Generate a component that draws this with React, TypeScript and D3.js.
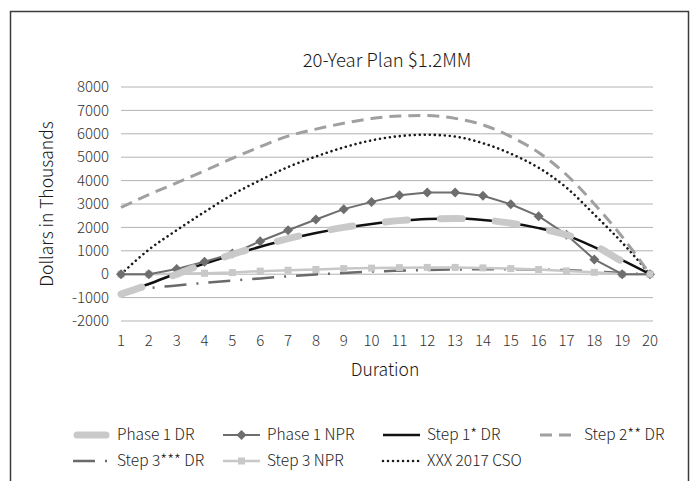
import React from 'react'
import * as d3 from 'd3'

const durations = [1, 2, 3, 4, 5, 6, 7, 8, 9, 10, 11, 12, 13, 14, 15, 16, 17, 18, 19, 20]
const yTicks = [-2000, -1000, 0, 1000, 2000, 3000, 4000, 5000, 6000, 7000, 8000]

const phase1DR = [-850, -450, 0, 450, 850, 1200, 1520, 1780, 2000, 2160, 2290, 2360, 2380, 2320, 2180, 1960, 1680, 1230, 550, 0]
const phase1NPR = [0, 0, 220, 530, 880, 1410, 1880, 2340, 2780, 3090, 3370, 3490, 3490, 3350, 2990, 2480, 1690, 630, 0, 0]
const step1DR = [-800, -420, 40, 450, 820, 1170, 1490, 1760, 1980, 2150, 2280, 2360, 2380, 2320, 2190, 1970, 1660, 1160, 600, 0]
const step2DR = [2850, 3400, 3900, 4420, 4950, 5450, 5900, 6200, 6450, 6650, 6760, 6780, 6660, 6380, 5880, 5200, 4250, 3000, 1600, 0]
const step3DR = [-800, -600, -480, -370, -270, -180, -90, -10, 50, 110, 150, 180, 200, 210, 210, 200, 170, 120, 50, 0]
const step3NPR = [0, 0, 20, 40, 70, 130, 170, 200, 240, 260, 280, 290, 290, 270, 240, 200, 140, 80, 0, 0]
const cso2017 = [0, 1050, 1880, 2660, 3400, 4020, 4580, 5030, 5420, 5720, 5900, 5960, 5880, 5600, 5150, 4550, 3700, 2550, 1350, 0]

const FONT = '"Noto Sans CJK JP", "Noto Sans", sans-serif'

type Series = {
  name: string
  values: number[]
  color: string
  width: number
  dash?: string
  cap?: 'round' | 'butt'
  marker?: 'diamond' | 'square'
  smooth: boolean
}

const series: Series[] = [
  { name: 'Phase 1 DR', values: phase1DR, color: '#c9c9c9', width: 7, dash: '22 33', cap: 'round', smooth: true },
  { name: 'Phase 1 NPR', values: phase1NPR, color: '#6e6e6e', width: 2, marker: 'diamond', smooth: false },
  { name: 'Step 1* DR', values: step1DR, color: '#111', width: 2.5, smooth: true },
  { name: 'Step 2** DR', values: step2DR, color: '#a0a0a0', width: 3, dash: '12 7', smooth: true },
  { name: 'Step 3*** DR', values: step3DR, color: '#6a6a6a', width: 2.5, dash: '22 10 2 10', smooth: true },
  { name: 'Step 3 NPR', values: step3NPR, color: '#c8c8c8', width: 2.5, marker: 'square', smooth: false },
  { name: 'XXX 2017 CSO', values: cso2017, color: '#1a1a1a', width: 2.6, dash: '0.01 5', cap: 'round', smooth: true }
]

// draw order: later on top
const drawOrder = ['XXX 2017 CSO', 'Step 2** DR', 'Step 3*** DR', 'Step 3 NPR', 'Step 1* DR', 'Phase 1 NPR', 'Phase 1 DR']

const Marker = ({ type, x, y, color }: { type?: string; x: number; y: number; color: string }) => {
  if (type === 'diamond') {
    const r = 5
    return <path d={`M${x},${y - r}L${x + r},${y}L${x},${y + r}L${x - r},${y}Z`} fill={color} />
  }
  if (type === 'square') {
    return <rect x={x - 3.5} y={y - 3.5} width={7} height={7} fill={color} />
  }
  return null
}

export default function App() {
  const width = 694
  const height = 481

  const x = d3.scaleLinear().domain([1, 20]).range([121, 650])
  const y = d3.scaleLinear().domain([-2000, 8000]).range([321, 87])

  const lineFor = (s: Series) =>
    d3.line<number>()
      .x((_, i) => x(durations[i]))
      .y(d => y(d))
      .curve(s.smooth ? d3.curveMonotoneX : d3.curveLinear)(s.values) || ''

  const legendRows = [
    [
      { s: 'Phase 1 DR', x: 73 },
      { s: 'Phase 1 NPR', x: 223 },
      { s: 'Step 1* DR', x: 383 },
      { s: 'Step 2** DR', x: 540 }
    ],
    [
      { s: 'Step 3*** DR', x: 73 },
      { s: 'Step 3 NPR', x: 223 },
      { s: 'XXX 2017 CSO', x: 383 }
    ]
  ]
  const legendY = [435, 461]

  const byName = (n: string) => series.find(s => s.name === n)!

  return (
    <svg
      width={width}
      height={height}
      style={{ position: 'absolute', left: 0, top: 0, background: '#fff' }}
      fontFamily={FONT}
      fontWeight={300}
    >
      <rect x={0} y={0} width={width} height={height} fill="#fff" />
      <path d={`M10.5,${height + 5}V11.5H688.5V${height + 5}`} fill="none" stroke="#3c3c3c" strokeWidth={1.5} />

      <text x={387} y={67} textAnchor="middle" fontSize={18.5} fill="#1a1a1a">
        20-Year Plan $1.2MM
      </text>

      {/* gridlines */}
      <g>
        {yTicks.map(t => (
          <line key={t} x1={121} x2={653} y1={y(t)} y2={y(t)} stroke="#b3b3b3" strokeWidth={1} />
        ))}
      </g>

      {/* y tick labels */}
      <g fontSize={15} fill="#333">
        {yTicks.map(t => (
          <text key={t} x={109} y={y(t)} dy="0.35em" textAnchor="end">
            {t}
          </text>
        ))}
      </g>

      {/* x tick labels */}
      <g fontSize={15} fill="#333">
        {durations.map(d => (
          <text key={d} x={x(d)} y={341} dy="0.35em" textAnchor="middle">
            {d}
          </text>
        ))}
      </g>

      <text x={385} y={370} dy="0.35em" textAnchor="middle" fontSize={17.5} fill="#1a1a1a">
        Duration
      </text>
      <text
        transform="translate(47,204) rotate(-90)"
        dy="0.35em"
        textAnchor="middle"
        fontSize={17.5}
        fill="#1a1a1a"
      >
        Dollars in Thousands
      </text>

      {/* series */}
      {drawOrder.map(n => {
        const s = byName(n)
        return (
          <g key={n}>
            <path
              d={lineFor(s)}
              fill="none"
              stroke={s.color}
              strokeWidth={s.width}
              strokeDasharray={s.dash}
              strokeLinecap={s.cap || 'butt'}
              strokeLinejoin="round"
            />
            {s.marker &&
              s.values.map((v, i) => (
                <Marker key={i} type={s.marker} x={x(durations[i])} y={y(v)} color={s.color} />
              ))}
          </g>
        )
      })}

      {/* legend */}
      {legendRows.map((row, ri) =>
        row.map(item => {
          const s = byName(item.s)
          const ly = legendY[ri]
          const x0 = item.x
          const x1 = item.x + 37
          return (
            <g key={item.s}>
              <line
                x1={s.cap === 'round' && s.width > 5 ? x0 + 4 : x0}
                x2={s.cap === 'round' && s.width > 5 ? x1 - 4 : x1}
                y1={ly}
                y2={ly}
                stroke={s.color}
                strokeWidth={s.width}
                strokeLinecap={s.cap || 'butt'}
                strokeDasharray={s.name === 'Phase 1 DR' ? undefined : s.dash}
              />
              {s.marker && <Marker type={s.marker} x={(x0 + x1) / 2} y={ly} color={s.color} />}
              <text x={x1 + 7} y={ly} dy="0.35em" fontSize={15.5} fill="#222">
                {s.name}
              </text>
            </g>
          )
        })
      )}
    </svg>
  )
}
